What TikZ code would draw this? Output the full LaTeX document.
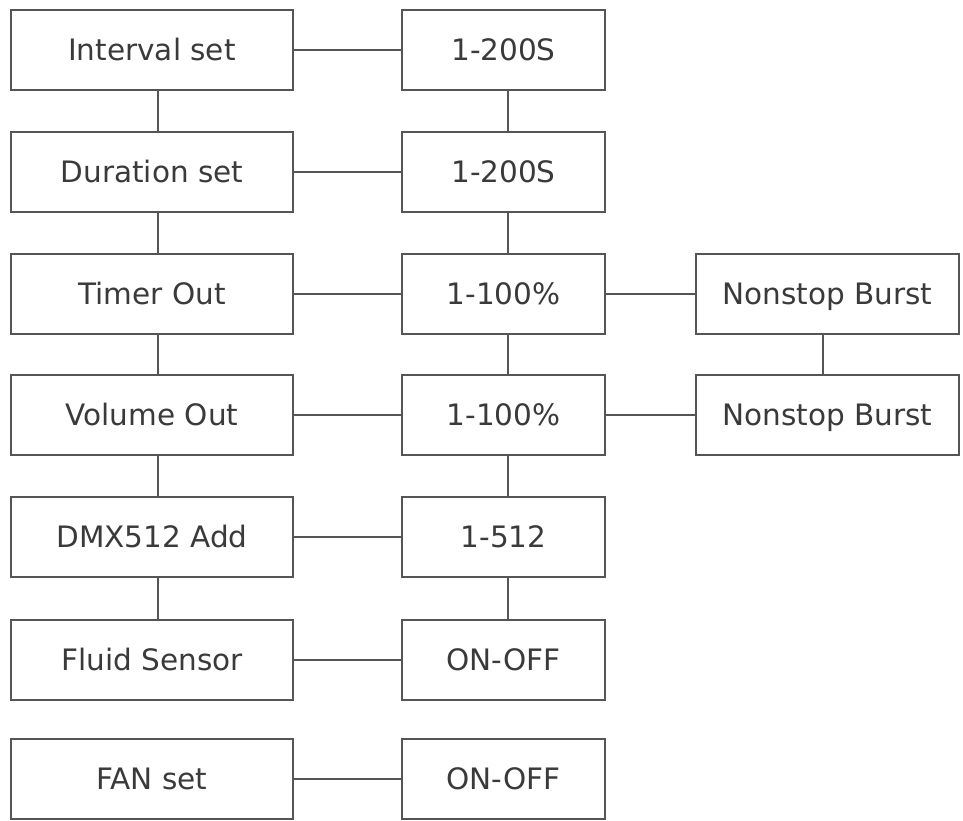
\documentclass[tikz,border=0pt]{standalone}
\usepackage{fontspec}
\setmainfont{DejaVu Sans}
\begin{document}
\begin{tikzpicture}[x=1pt,y=-1pt,
  box/.style={draw=linegray,line width=2.4pt,fill=white,minimum height=80pt,
    inner sep=0pt,font=\fontsize{29.5}{33}\selectfont,text=textgray,
    text height=21.5pt,text depth=0pt},
  lbox/.style={box,minimum width=282pt},
  mbox/.style={box,minimum width=203pt},
  rbox/.style={box,minimum width=263pt},
  link/.style={draw=linegray,line width=2.4pt}]
\definecolor{linegray}{HTML}{555555}
\definecolor{textgray}{HTML}{3A3A3A}
\useasboundingbox[fill=white] (0,0) rectangle (963,820);

% left column
\node[lbox] (l1) at (152,50)    {Interval set};
\node[lbox] (l2) at (152,172)   {Duration set};
\node[lbox] (l3) at (152,294)   {Timer Out};
\node[lbox] (l4) at (152,415)   {Volume Out};
\node[lbox] (l5) at (152,537)   {DMX512 Add};
\node[lbox] (l6) at (152,660)   {Fluid Sensor};
\node[lbox] (l7) at (152,779)   {FAN set};

% middle column
\node[mbox] (m1) at (503.5,50)  {1-200S};
\node[mbox] (m2) at (503.5,172) {1-200S};
\node[mbox] (m3) at (503.5,294) {1-100\%};
\node[mbox] (m4) at (503.5,415) {1-100\%};
\node[mbox] (m5) at (503.5,537) {1-512};
\node[mbox] (m6) at (503.5,660) {ON-OFF};
\node[mbox] (m7) at (503.5,779) {ON-OFF};

% right column
\node[rbox] (r3) at (827.5,294) {Nonstop Burst};
\node[rbox] (r4) at (827.5,415) {Nonstop Burst};

% horizontal links
\foreach \i in {1,...,7}
  \draw[link] (l\i.east) -- (m\i.west);
\draw[link] (m3.east) -- (r3.west);
\draw[link] (m4.east) -- (r4.west);

% vertical links
\foreach \i/\j in {1/2,2/3,3/4,4/5,5/6}{
  \draw[link] ([xshift=6pt]l\i.south) -- ([xshift=6pt]l\j.north);
  \draw[link] ([xshift=4.5pt]m\i.south) -- ([xshift=4.5pt]m\j.north);
}
\draw[link] ([xshift=-4.5pt]r3.south) -- ([xshift=-4.5pt]r4.north);
\end{tikzpicture}
\end{document}
